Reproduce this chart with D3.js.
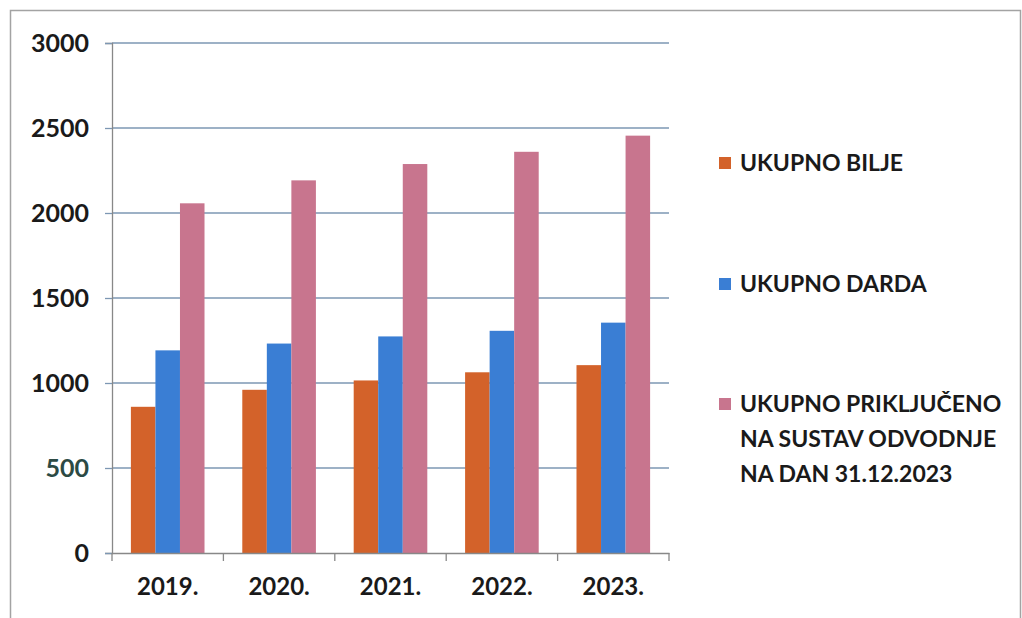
<!DOCTYPE html>
<html>
<head>
<meta charset="utf-8">
<script src="https://cdn.jsdelivr.net/npm/d3@7/dist/d3.min.js"></script>
<style>
  html, body { margin: 0; padding: 0; background: #fff; }
  svg { display: block; }
  text { font-family: Lato, "Open Sans", sans-serif; font-weight: 700; }
</style>
</head>
<body>
<svg id="chart" width="1022" height="618"></svg>
<script>
const years = ["2019.", "2020.", "2021.", "2022.", "2023."];
const seriesNames = ["UKUPNO BILJE", "UKUPNO DARDA", "UKUPNO PRIKLJUČENO NA SUSTAV ODVODNJE NA DAN 31.12.2023"];
const bilje = [860, 960, 1015, 1063, 1105];
const darda = [1192, 1232, 1274, 1307, 1355];
const prikljuceno = [2057, 2192, 2288, 2360, 2455];
const yTicks = [0, 500, 1000, 1500, 2000, 2500, 3000];
const legendLines = [["UKUPNO BILJE"], ["UKUPNO DARDA"], ["UKUPNO PRIKLJUČENO", "NA SUSTAV ODVODNJE", "NA DAN 31.12.2023"]];
const colors = ["#D3622A", "#3A7ED4", "#C8758E"];

const seriesValues = [bilje, darda, prikljuceno];
const data = years.map((yr, i) => ({ year: yr, values: seriesValues.map((s, k) => ({ key: k, value: s[i] })) }));

const svg = d3.select("#chart");

// outer frame
svg.append("rect").attr("x", 10.5).attr("y", 10.5).attr("width", 1010).attr("height", 640)
  .attr("fill", "#fff").attr("stroke", "#a3a3a3").attr("stroke-width", 1.5);

const plotLeft = 112, plotRight = 669, plotTop = 43, plotBottom = 553;

const x0 = d3.scaleBand().domain(years).range([plotLeft, plotRight]).paddingInner(0).paddingOuter(0);
const x1 = d3.scaleBand().domain([0, 1, 2]).range([0, x0.bandwidth()]).paddingInner(0).paddingOuter(0.77);
const y = d3.scaleLinear().domain([0, 3000]).range([plotBottom, plotTop]);

// gridlines
svg.append("g").selectAll("line").data(yTicks.filter(t => t > 0)).join("line")
  .attr("x1", plotLeft).attr("x2", plotRight)
  .attr("y1", d => y(d)).attr("y2", d => y(d))
  .attr("stroke", "#7d97b3").attr("stroke-width", 1.3);

// bars
const groups = svg.append("g").selectAll("g").data(data).join("g")
  .attr("transform", d => `translate(${x0(d.year)},0)`);
groups.selectAll("rect").data(d => d.values).join("rect")
  .attr("x", d => x1(d.key))
  .attr("width", x1.bandwidth())
  .attr("y", d => y(d.value))
  .attr("height", d => y(0) - y(d.value))
  .attr("fill", d => colors[d.key]);

// y axis
const yAxis = svg.append("g").attr("transform", `translate(${plotLeft},0)`)
  .call(d3.axisLeft(y).tickValues(yTicks).tickFormat(d3.format("d")).tickSize(7).tickPadding(16));
yAxis.select(".domain").attr("stroke", "#888").attr("stroke-width", 1.3);
yAxis.selectAll(".tick line").attr("stroke", "#7d97b3").attr("stroke-width", 1.3);
yAxis.selectAll(".tick text").attr("font-size", 25).attr("font-family", "Lato, sans-serif").attr("font-weight", 700)
  .attr("fill", d => d === 500 ? "#2c4a44" : "#1a1a1a");

// x axis
const xAxis = svg.append("g").attr("transform", `translate(0,${plotBottom})`)
  .call(d3.axisBottom(x0).tickSize(0).tickPadding(25));
xAxis.select(".domain").attr("stroke", "#888").attr("stroke-width", 1.3);
xAxis.selectAll(".tick text").attr("font-size", 24).attr("font-family", "Lato, sans-serif").attr("font-weight", 700).attr("fill", "#1a1a1a");
// tick marks at category boundaries
svg.append("g").selectAll("line").data(years.concat(["end"])).join("line")
  .attr("x1", (d, i) => plotLeft + i * x0.step()).attr("x2", (d, i) => plotLeft + i * x0.step())
  .attr("y1", plotBottom).attr("y2", plotBottom + 8)
  .attr("stroke", "#888").attr("stroke-width", 1.3);

// legend
const legendY = [163, 284, 404];
const leg = svg.append("g").selectAll("g").data(legendLines).join("g")
  .attr("transform", (d, i) => `translate(719,${legendY[i]})`);
leg.append("rect").attr("x", 0).attr("y", -6).attr("width", 12).attr("height", 12)
  .attr("fill", (d, i) => colors[i]);
leg.each(function(lines) {
  const t = d3.select(this).append("text").attr("x", 21).attr("y", 0)
    .attr("font-size", 23).attr("fill", "#1a1a1a");
  lines.forEach((ln, j) => {
    t.append("tspan").attr("x", 21).attr("dy", j === 0 ? "0.36em" : 35).text(ln);
  });
});
</script>
</body>
</html>
